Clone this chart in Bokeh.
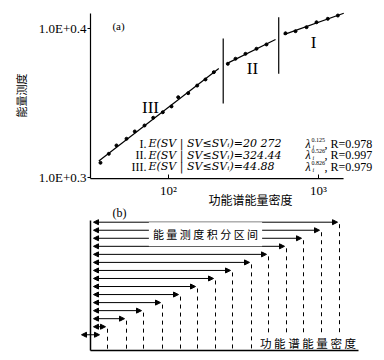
import numpy as np
from bokeh.plotting import figure
from bokeh.models import (Range1d, Label, Arrow, NormalHead, ColumnDataSource, LogScale)
from bokeh.embed import file_html
from bokeh.resources import INLINE

# ---------------- panel (a) data ----------------
seg3_x = [35.2, 40.0, 45.0, 52.5, 59.6, 69.2, 79.1, 91.6, 104.7, 116.1, 135.3, 155.3, 176.4, 200.5]
seg3_y = [0.3099, 0.3159, 0.3215, 0.3260, 0.3309, 0.3349, 0.3401, 0.3438, 0.3477, 0.3539,
          0.3566, 0.3617, 0.3658, 0.3707]
seg2_x = [248.5, 279.7, 326.0, 386.0, 450.0]
seg2_y = [0.3763, 0.3797, 0.3830, 0.3864, 0.3893]
seg1_x = [602.6, 702.5, 832.0, 970.0, 1153.0, 1346.0]
seg1_y = [0.3968, 0.3982, 0.4009, 0.4042, 0.4065, 0.4087]
fit_from = [34.3, 246.0, 587.0]
fit_to = [216.4, 517.0, 1474.0]
sep_x = [231.6, 543.0]
sep_y_low = [0.3497, 0.3696]
sep_y_high = [0.3933, 0.4076]
a_xlim = [10 ** 1.48, 10 ** 3.167]
a_ylim = [0.2993, 0.4101]
y_ticks = [0.3, 0.4]
y_tick_labels = ["1.0E+0.3", "1.0E+0.4"]
x_ticks = [100, 1000]
x_tick_labels = ["10\u00b2", "10\u00b3"]
seg_names = ["III", "II", "I"]
formula_num = ["I.", "II.", "III."]
formula_body = ["E(SV | SV\u2264SV\u1d62)=20 272", "E(SV | SV\u2264SV\u1d62)=324.44",
                "E(SV | SV\u2264SV\u1d62)=44.88"]
formula_exp = ["0.125", "0.526", "0.826"]
formula_r = [", R=0.978", ", R=0.997", ", R=0.979"]

# ---------------- panel (b) data ----------------
interval_ends = [249, 231, 213, 196, 178, 161, 142, 125, 107, 90, 72, 53, 36, 17]
small_interval = [-9, 9]

SERIF = "Liberation Serif"
CJK = "Noto Sans CJK SC"
W, H = 384, 360

p = figure(width=W, height=H,
           x_range=Range1d(-90, 294), y_range=Range1d(-10, 350),
           extra_x_ranges={"a": Range1d(10 ** 0.88, 10 ** 3.44)},
           extra_x_scales={"a": LogScale()},
           extra_y_ranges={"a": Range1d(0.177181, 0.418792)},
           x_axis_location=None, y_axis_location=None,
           min_border=0, min_border_left=0, min_border_right=0,
           min_border_top=0, min_border_bottom=0,
           output_backend="svg", toolbar_location=None)
p.outline_line_color = None
p.grid.visible = False
p.background_fill_color = "white"
p.border_fill_color = "white"

A = dict(x_range_name="a", y_range_name="a")

# ---------------- panel (a): axes ----------------
p.segment(x0=[a_xlim[0], a_xlim[0]], y0=[a_ylim[0], a_ylim[0]],
          x1=[a_xlim[0], a_xlim[1]], y1=[a_ylim[1], a_ylim[0]],
          line_color="black", line_width=1.2, **A)
# y ticks (pointing out, 3px) and x ticks (pointing in, 4px)
tick_x0 = 10 ** (np.log10(a_xlim[0]) - 3 / 150)
p.segment(x0=[tick_x0] * len(y_ticks), y0=y_ticks, x1=[a_xlim[0]] * len(y_ticks), y1=y_ticks,
          line_color="black", line_width=1, **A)
p.segment(x0=x_ticks, y0=[a_ylim[0]] * len(x_ticks), x1=x_ticks,
          y1=[a_ylim[0] + 4 / 1490] * len(x_ticks), line_color="black", line_width=1, **A)

for t, lab in zip(y_ticks, y_tick_labels):
    p.add_layout(Label(x=a_xlim[0], y=t, x_offset=-4, text=lab, text_font=SERIF,
                       text_font_size="13px", text_color="black", text_align="right",
                       text_baseline="middle", **A))
for t, lab in zip(x_ticks, x_tick_labels):
    p.add_layout(Label(x=t, y=a_ylim[0], y_offset=-12, text=lab, text_font=SERIF,
                       text_font_size="13px", text_color="black", text_align="center",
                       text_baseline="middle", **A))

# ---------------- panel (a): data ----------------
segments = [(seg3_x, seg3_y), (seg2_x, seg2_y), (seg1_x, seg1_y)]
for (sx, sy), f0, f1 in zip(segments, fit_from, fit_to):
    k, b = np.polyfit(np.log10(sx), sy, 1)
    fx = np.array([f0, f1])
    p.line(fx, k * np.log10(fx) + b, line_color="black", line_width=1.2, **A)
    p.scatter(sx, sy, size=3, color="black", **A)

p.segment(x0=sep_x, y0=sep_y_low, x1=sep_x, y1=sep_y_high, line_color="black",
          line_width=1.2, **A)


def scr_label(px, py, text, **kw):
    opts = dict(text_font=SERIF, text_font_size="12px", text_color="black",
                text_align="left", text_baseline="middle")
    opts.update(kw)
    p.add_layout(Label(x=px, y=H - py, x_units="screen", y_units="screen", text=text, **opts))


scr_label(118, 25, "(a)", text_font_size="11px", text_align="center")
for name, (px, py) in zip(seg_names, [(150, 107), (252, 68), (313, 42)]):
    scr_label(px, py, name, text_font_size="17px", text_align="center")

row_y = [143, 154.5, 166]
for i in range(3):
    y = row_y[i]
    scr_label(146, y, formula_num[i], text_align="right")
    scr_label(148, y, formula_body[i], text_font="DejaVu Serif", text_font_style="italic",
              text_font_size="11px")
    scr_label(305, y, "\u03bb", text_font_style="italic")
    scr_label(312, y + 3, "i", text_font_size="6px", text_font_style="italic")
    scr_label(311, y - 4, formula_exp[i], text_font_size="6px")
    scr_label(324, y, formula_r[i])

scr_label(250, 199, "功能谱能量密度", text_font=CJK, text_font_size="12px", text_align="center")
scr_label(20, 95, "能量测度", text_font=CJK, text_font_size="11px", text_align="center",
          angle=np.pi / 2)

# ---------------- panel (b) ----------------
n_rows = len(interval_ends) + 1
rows_v = 128.3 - 8.04 * np.arange(n_rows)

p.segment(x0=interval_ends, y0=rows_v[:-1] - 2, x1=interval_ends, y1=[0] * len(interval_ends),
          line_color="black", line_width=1, line_dash="4 4")

arrow_src = ColumnDataSource(dict(
    x0=[3] * len(interval_ends) + [small_interval[0]],
    x1=[e - 2 for e in interval_ends] + [small_interval[1]],
    y=list(rows_v)))
p.add_layout(Arrow(start=NormalHead(size=5, fill_color="black", line_color="black"),
                   end=NormalHead(size=5, fill_color="black", line_color="black"),
                   x_start="x0", y_start="y", x_end="x1", y_end="y",
                   source=arrow_src, line_color="black", line_width=1))

p.add_layout(Label(x=115, y=(rows_v[1] + rows_v[2]) / 2, text="能 量 测 度 积 分 区 间",
                   text_font=CJK, text_font_size="11px", text_color="black",
                   text_align="center", text_baseline="middle",
                   background_fill_color="white", padding=4))
p.add_layout(Label(x=217.5, y=7.3, text="功 能 谱 能 量 密 度",
                   text_font=CJK, text_font_size="11.5px", text_color="black",
                   text_align="center", text_baseline="middle",
                   background_fill_color="white", padding=1))
p.add_layout(Label(x=29, y=137.5, text="(b)", text_font=SERIF, text_font_size="12px",
                   text_color="black", text_align="center", text_baseline="middle"))

ax_r1 = p.segment(x0=[0], y0=[0], x1=[268], y1=[0], line_color="black", line_width=1.5)
ax_r2 = p.segment(x0=[0], y0=[0], x1=[0], y1=[130], line_color="black", line_width=1.5)
ax_r1.level = "overlay"
ax_r2.level = "overlay"

open("out.html", "w").write(file_html(p, INLINE))
